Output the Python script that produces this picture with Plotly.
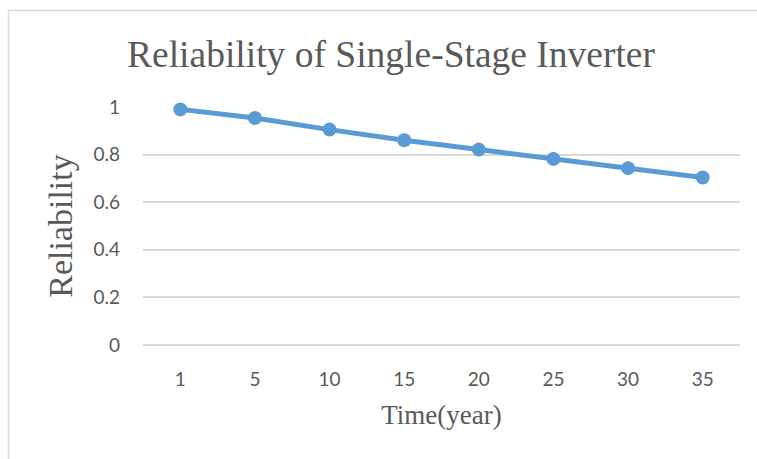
import plotly.graph_objects as go

# Reliability of a single-stage inverter over its service life
years = ["1", "5", "10", "15", "20", "25", "30", "35"]
reliability = [0.990, 0.954, 0.905, 0.860, 0.821, 0.782, 0.743, 0.704]
y_ticks = [0, 0.2, 0.4, 0.6, 0.8, 1]
y_tick_text = ["0", "0.2", "0.4", "0.6", "0.8", "1"]

W, H = 757, 459
L, R, T, B = 143, 17, 107, 114
pw, ph = W - L - R, H - T - B

blue = "#5B9BD5"
grey_text = "#595959"
grid = "#D9D9D9"
serif = "Liberation Serif, Times New Roman, serif"
sans = "Lato, Open Sans, sans-serif"

fig = go.Figure(
    go.Scatter(
        x=years,
        y=reliability,
        mode="lines+markers",
        line=dict(color=blue, width=5),
        marker=dict(color=blue, size=14),
        cliponaxis=False,
        showlegend=False,
    )
)

fig.update_layout(
    width=W,
    height=H,
    margin=dict(l=L, r=R, t=T, b=B, pad=0),
    paper_bgcolor="white",
    plot_bgcolor="white",
    title=dict(
        text="Reliability of Single-Stage Inverter",
        font=dict(family=serif, size=37.5, color=grey_text),
        x=391 / W,
        xanchor="center",
        y=1 - 54 / H,
        yanchor="middle",
    ),
    xaxis=dict(
        type="category",
        range=[-0.5, len(years) - 0.5],
        showgrid=False,
        showline=False,
        zeroline=False,
        ticks="",
        tickfont=dict(family=sans, size=19, color=grey_text),
        ticklabelstandoff=21,
        title=dict(
            text="Time(year)",
            font=dict(family=serif, size=27, color=grey_text),
            standoff=16,
        ),
    ),
    yaxis=dict(
        range=[0, 1],
        tickvals=y_ticks,
        ticktext=y_tick_text,
        showgrid=True,
        gridcolor=grid,
        gridwidth=2,
        zeroline=True,
        zerolinecolor=grid,
        zerolinewidth=2,
        showline=False,
        ticks="",
        tickfont=dict(family=sans, size=19, color=grey_text),
        ticklabelstandoff=22,
        title=dict(
            text="Reliability",
            font=dict(family=serif, size=34, color=grey_text),
            standoff=10,
        ),
    ),
    shapes=[
        dict(
            type="rect",
            xref="paper",
            yref="paper",
            x0=(8.5 - L) / pw,
            x1=(W + 5 - L) / pw,
            y0=-(B + 5) / ph,
            y1=1 + (T - 10.5) / ph,
            line=dict(color=grid, width=1.5),
            fillcolor="rgba(0,0,0,0)",
            layer="below",
        )
    ],
)

fig.write_html("out.html")
